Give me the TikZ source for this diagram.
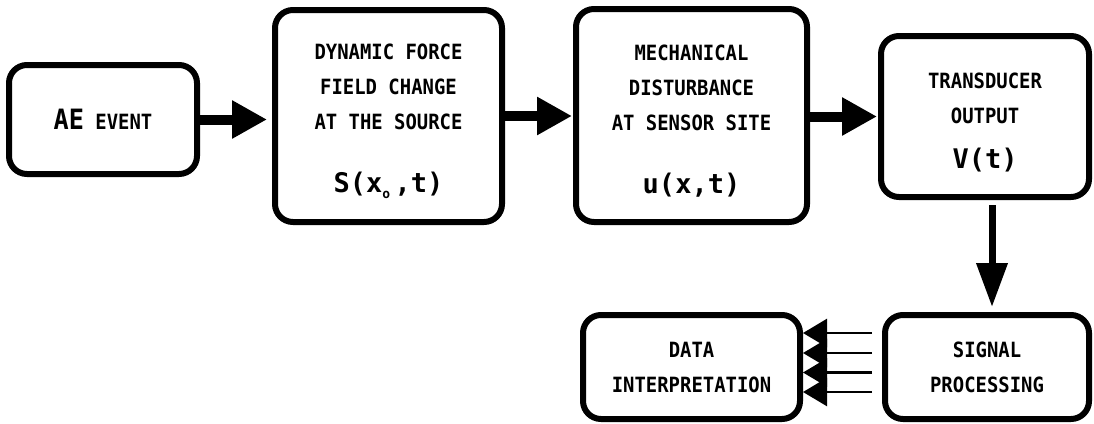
\documentclass[tikz,border=0pt]{standalone}
\usepackage{fontspec}
\newfontfamily\lbl[FakeStretch=0.9]{DejaVu Sans Mono}
\newfontfamily\fmlfont{DejaVu Sans Mono}
\usetikzlibrary{arrows.meta,calc}
\newcommand\fml[1]{{\fmlfont\fontsize{27}{35}\selectfont\bfseries #1}}
\newcommand\subo{\raisebox{-6pt}{\fontsize{13}{13}\selectfont o}}
\newcommand\toppad[1]{\rule{0pt}{#1}}
\tikzset{
  blk/.style={draw, line width=6pt, rounded corners=18pt, inner sep=0pt, align=center,
    font=\lbl\bfseries\fontsize{21}{35}\selectfont},
  bigarr/.style={line width=10pt, -{Triangle[length=35pt,width=36pt]}},
  downarr/.style={line width=7pt, -{Triangle[length=44pt,width=30pt]}},
  thinarr/.style={line width=2.5pt, shorten <=10pt, -{Triangle[length=24pt,width=28pt]}}
}
\begin{document}
\begin{tikzpicture}[x=1pt,y=-1pt]
\useasboundingbox (0,0) rectangle (1094,423);
\node[blk, minimum width=188pt, minimum height=109pt] (b1) at (103,119.5)
  {{\fontsize{28}{35}\selectfont AE} EVENT};
\node[blk, minimum width=227pt, minimum height=212pt] (b2) at (388.5,116)
  {\toppad{26pt}DYNAMIC FORCE\\FIELD CHANGE\\AT THE SOURCE\\[28pt]\fml{S(x\subo\,,t)}};
\node[blk, minimum width=231pt, minimum height=213pt] (b3) at (691.5,115.5)
  {\toppad{26pt}MECHANICAL\\DISTURBANCE\\AT SENSOR SITE\\[28pt]\fml{u(x,t)}};
\node[blk, minimum width=208pt, minimum height=161pt] (b4) at (985,116.5)
  {\toppad{28pt}TRANSDUCER\\OUTPUT\\[10pt]\fml{V(t)}};
\node[blk, minimum width=204pt, minimum height=104pt] (sig) at (987,367)
  {SIGNAL\\PROCESSING};
\node[blk, minimum width=217pt, minimum height=104pt] (data) at (691.5,367)
  {DATA\\INTERPRETATION};
\draw[bigarr, shorten >=5pt] (b1) -- (b1 -| b2.west);
\draw[bigarr, shorten >=1pt] (b2) -- (b2 -| b3.west);
\draw[bigarr, shorten >=1pt] (b3.east |- b4) -- (b4.west);
\draw[downarr, shorten <=5pt, shorten >=5pt] ([xshift=7pt]b4.south) -- ([xshift=7pt]b4.south |- sig.north);
\foreach \dy in {-34,-14,5.5,25}
  \draw[thinarr] ([yshift=-\dy pt]sig.west) -- ([yshift=-\dy pt]data.east);
\end{tikzpicture}
\end{document}
